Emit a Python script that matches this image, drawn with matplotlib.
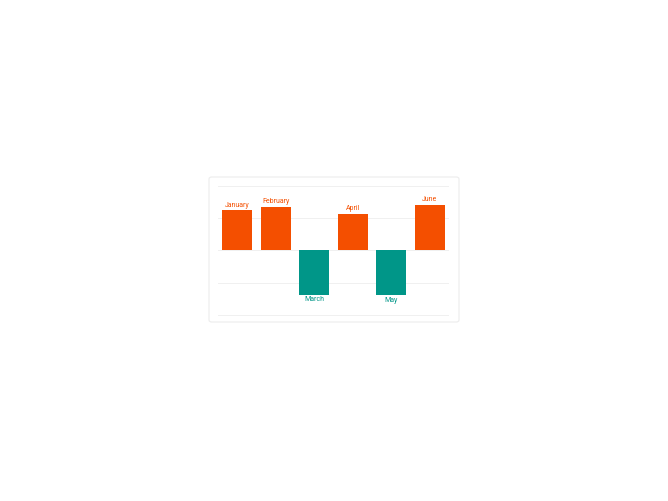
import matplotlib
matplotlib.use("Agg")
import matplotlib.pyplot as plt
from matplotlib.patches import FancyBboxPatch

months = ["January", "February", "March", "April", "May", "June"]
values = [12.4, 13.5, -13.8, 11.4, -14.0, 14.2]
pos_color = "#F44F00"
neg_color = "#009688"

W, H = 668, 501
fig = plt.figure(figsize=(W / 100, H / 100), dpi=100)
fig.patch.set_facecolor("white")

# card
cx0, cy0, cx1, cy1 = 209, 177, 459, 322
card = FancyBboxPatch((cx0 / W, 1 - cy1 / H), (cx1 - cx0) / W, (cy1 - cy0) / H,
                      boxstyle="round,pad=0,rounding_size=0.004",
                      transform=fig.transFigure, facecolor="white",
                      edgecolor="#ececec", linewidth=0.8, zorder=-5)
fig.patches.append(card)

ax0, ay0, ax1, ay1 = 218, 184.4, 449, 316.3
ax = fig.add_axes([ax0 / W, 1 - ay1 / H, (ax1 - ax0) / W, (ay1 - ay0) / H])
ax.set_zorder(2)
ax.set_facecolor("none")
ax.set_xlim(-0.5, len(months) - 0.5)
ax.set_ylim(-20.5, 20.5)
for s in ax.spines.values():
    s.set_visible(False)
ax.set_xticks([])
ax.set_yticks([-20, -10, 0, 10, 20])
ax.tick_params(axis="y", length=0, labelleft=False)
ax.grid(axis="y", color="#f0f0f0", linewidth=0.7)
ax.set_axisbelow(True)

x = list(range(len(months)))
colors = [pos_color if v >= 0 else neg_color for v in values]
ax.bar(x, values, width=0.78, color=colors, zorder=2)

for xi, v, m, c in zip(x, values, months, colors):
    if v >= 0:
        ax.annotate(m, (xi, v), xytext=(0, 1.2), textcoords="offset points",
                    ha="center", va="bottom", fontsize=5, color=c,
                    family="Roboto")
    else:
        ax.annotate(m, (xi, v), xytext=(0, -1.2), textcoords="offset points",
                    ha="center", va="top", fontsize=5, color=c,
                    family="Roboto")

fig.savefig("out.png", dpi=100, facecolor="white")
